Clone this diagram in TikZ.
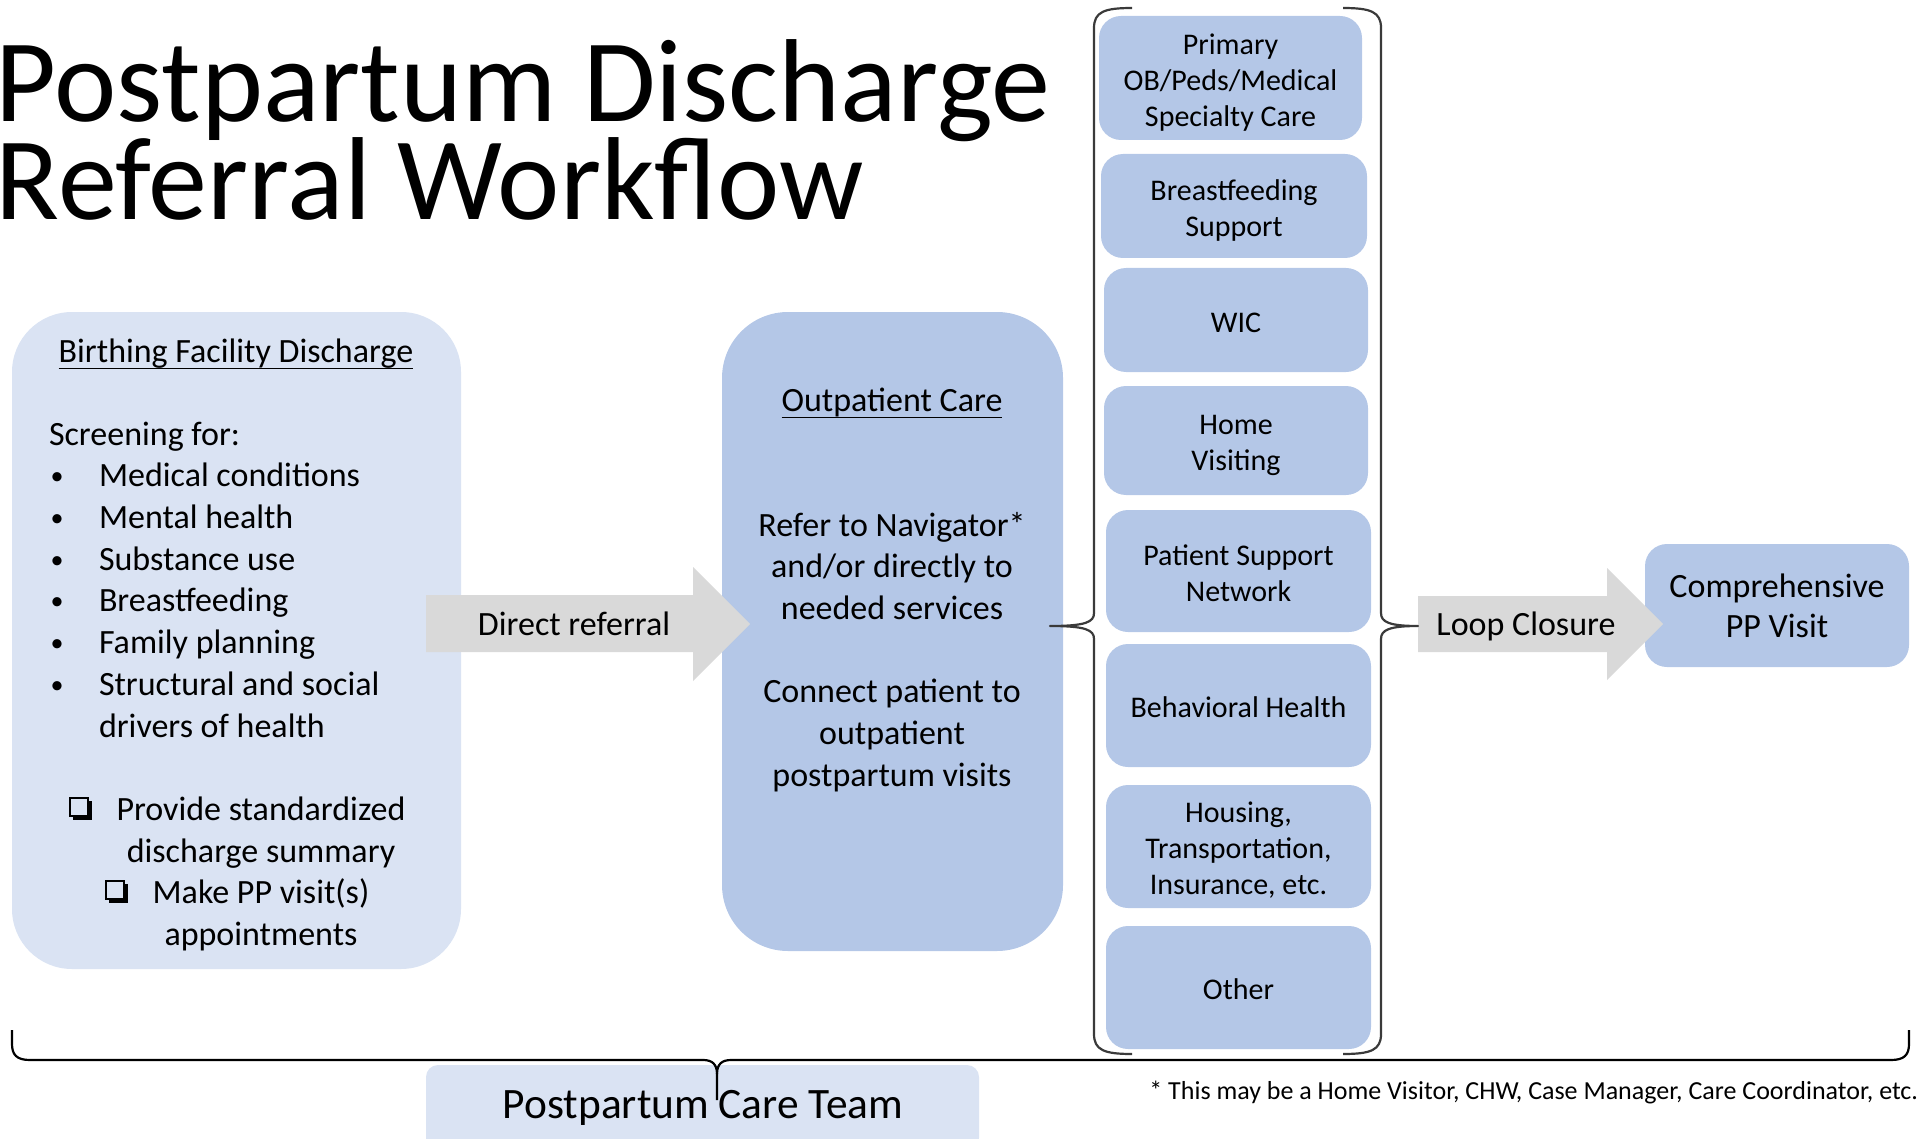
\documentclass[tikz,border=0pt]{standalone}
\usepackage{fontspec}
\setmainfont{Carlito}
\usetikzlibrary{fit,calc}
\definecolor{lightbox}{HTML}{DAE3F3}
\definecolor{midbox}{HTML}{B4C7E7}
\definecolor{arrowgray}{HTML}{D9D9D9}
\definecolor{bracecol}{HTML}{3A3A3A}
\begin{document}
\begin{tikzpicture}[x=0.5pt,y=-0.5pt,
  every node/.style={inner sep=0pt, outer sep=0pt},
  txt/.style={font=\fontsize{17}{20.8}\selectfont, anchor=base},
  bullettxt/.style={font=\fontsize{13}{15}\selectfont, anchor=base},
  titletxt/.style={font=\fontsize{59}{49}\selectfont, anchor=base west},
  bigbox/.style={fill=lightbox, rounded corners=30pt},
  outbox/.style={fill=midbox, rounded corners=33pt},
  colbox/.style={fill=midbox, rounded corners=11pt},
  coltxt/.style={align=center, font=\fontsize{15}{18}\selectfont, anchor=center, yshift=-2.5pt},
  comptxt/.style={align=center, font=\fontsize{17}{20}\selectfont, anchor=center, yshift=-2pt},
  teambox/.style={fill=lightbox, rounded corners=6pt},
  blockarrow/.style={fill=arrowgray},
  bracestyle/.style={draw=bracecol, line width=1.1pt, line join=round},
  uline/.style={line width=0.7pt},
  chkline/.style={line width=0.75pt},
]
\useasboundingbox (0,0) rectangle (1921,1139);

% title
\node[titletxt] (title1) at (-4,122) {Postpartum Discharge};
\node[titletxt] (title2) at (-4,220) {Referral Workflow};

% main boxes
\node[bigbox, fit={(12,312) (461,969)}] (bfd) {};
\node[outbox, fit={(722,312) (1063,951)}] (opc) {};

% column boxes
\node[colbox, fit={(1099,16) (1362,140)}] (c1) {};
\node[colbox, fit={(1101,154) (1367,258)}] (c2) {};
\node[colbox, fit={(1104,268) (1368,372)}] (c3) {};
\node[colbox, fit={(1104,386) (1368,495)}] (c4) {};
\node[colbox, fit={(1106,510) (1371,632)}] (c5) {};
\node[colbox, fit={(1106,644) (1371,767)}] (c6) {};
\node[colbox, fit={(1106,785) (1371,908)}] (c7) {};
\node[colbox, fit={(1106,926) (1371,1049)}] (c8) {};
\node[coltxt] (c1t) at (c1.center) {\strut Primary\\OB/Peds/Medical\\Specialty Care\strut};
\node[coltxt] (c2t) at (c2.center) {\strut Breastfeeding\\Support\strut};
\node[coltxt] (c3t) at (c3.center) {\strut WIC\strut};
\node[coltxt] (c4t) at (c4.center) {\strut Home\\Visiting\strut};
\node[coltxt] (c5t) at (c5.center) {\strut Patient Support\\Network\strut};
\node[coltxt] (c6t) at (c6.center) {\strut Behavioral Health\strut};
\node[coltxt] (c7t) at (c7.center) {\strut Housing,\\Transportation,\\Insurance, etc.\strut};
\node[coltxt] (c8t) at (c8.center) {\strut Other\strut};

% comprehensive visit
\node[colbox, fit={(1645,544) (1909,667)}] (comp) {};
\node[comptxt] (compt) at (comp.center) {\strut Comprehensive\\PP Visit\strut};

% care team box
\node[teambox, fit={(426,1065) (979,1150)}] (teambg) {};

% block arrows
\fill[blockarrow] (426,595) -- (693,595) -- (693,567) -- (750,624) -- (693,681) -- (693,652) -- (426,652) -- cycle;
\node[txt] (direct) at (574,635) {Direct referral};
\fill[blockarrow] (1418,596) -- (1607,596) -- (1607,568) -- (1663,624) -- (1607,680) -- (1607,652) -- (1418,652) -- cycle;
\node[txt] (loop) at (1526,635) {Loop Closure};

% left box text
\node[txt] (bfdh) at (236,362) {Birthing Facility Discharge};
\draw[uline] ([yshift=-3.2pt]bfdh.base west) -- ([yshift=-3.2pt]bfdh.base east);
\node[txt, anchor=base west] (scr) at (49,445) {Screening for:};
\foreach \t [count=\i, evaluate=\i as \yy using 445+41.7*\i] in
  {Medical conditions, Mental health, Substance use, Breastfeeding, Family planning, Structural and social}{
  \node[bullettxt] (bul\i) at (57,\yy-2) {\textbullet};
  \node[txt, anchor=base west] (item\i) at (99,\yy) {\t};
}
\node[txt, anchor=base west] (item7) at (99,737) {drivers of health};

\node[txt] (chk1a) at (261,820) {Provide standardized};
\node[txt] (chk1b) at (261,862) {discharge summary};
\node[txt] (chk2a) at (261,903) {Make PP visit(s)};
\node[txt] (chk2b) at (261,945) {appointments};
% checkbox glyphs
\draw[chkline] (70,798) rectangle (88,816);
\fill (73,815.5) rectangle (92,820);
\fill (87.5,801) rectangle (92,820);
\draw[chkline] (106,881) rectangle (124,899);
\fill (109,898.5) rectangle (128,903);
\fill (123.5,884) rectangle (128,903);

% outpatient text
\node[txt] (oph) at (892,411) {Outpatient Care};
\draw[uline] ([yshift=-3.2pt]oph.base west) -- ([yshift=-3.2pt]oph.base east);
\node[txt] (op1) at (892,536) {Refer to Navigator*};
\node[txt] (op2) at (892,577) {and/or directly to};
\node[txt] (op3) at (892,619) {needed services};
\node[txt] (op4) at (892,702) {Connect patient to};
\node[txt] (op5) at (892,744) {outpatient};
\node[txt] (op6) at (892,786) {postpartum visits};

% braces
\draw[bracestyle] (1132,8) .. controls (1104,8) and (1094,12) .. (1094,28) -- (1094,613)
  .. controls (1094,622) and (1086,626) .. (1050,626)
  .. controls (1086,626) and (1094,630) .. (1094,639) -- (1094,1034)
  .. controls (1094,1050) and (1104,1054) .. (1132,1054);
\draw[bracestyle] (1343,8) .. controls (1371,8) and (1381,12) .. (1381,28) -- (1381,613)
  .. controls (1381,622) and (1389,626) .. (1418,626)
  .. controls (1389,626) and (1381,630) .. (1381,639) -- (1381,1034)
  .. controls (1381,1050) and (1371,1054) .. (1343,1054);
\draw[bracestyle, draw=black] (12,1030) -- (12,1044) .. controls (12,1055) and (17,1060) .. (30,1060) -- (703,1060)
  .. controls (712,1060) and (717,1064) .. (717,1074) -- (717,1100);
\draw[bracestyle, draw=black] (717,1074) .. controls (717,1064) and (722,1060) .. (731,1060) -- (1891,1060)
  .. controls (1904,1060) and (1909,1055) .. (1909,1044) -- (1909,1030);

% care team label and footnote
\node[anchor=base, font=\fontsize{21.7}{26}\selectfont] (team) at (703,1118) {Postpartum Care Team};
\node[anchor=base east, font=\fontsize{13}{15}\selectfont] (foot) at (1918,1099) {* This may be a Home Visitor, CHW, Case Manager, Care Coordinator, etc.};
\end{tikzpicture}
\end{document}
